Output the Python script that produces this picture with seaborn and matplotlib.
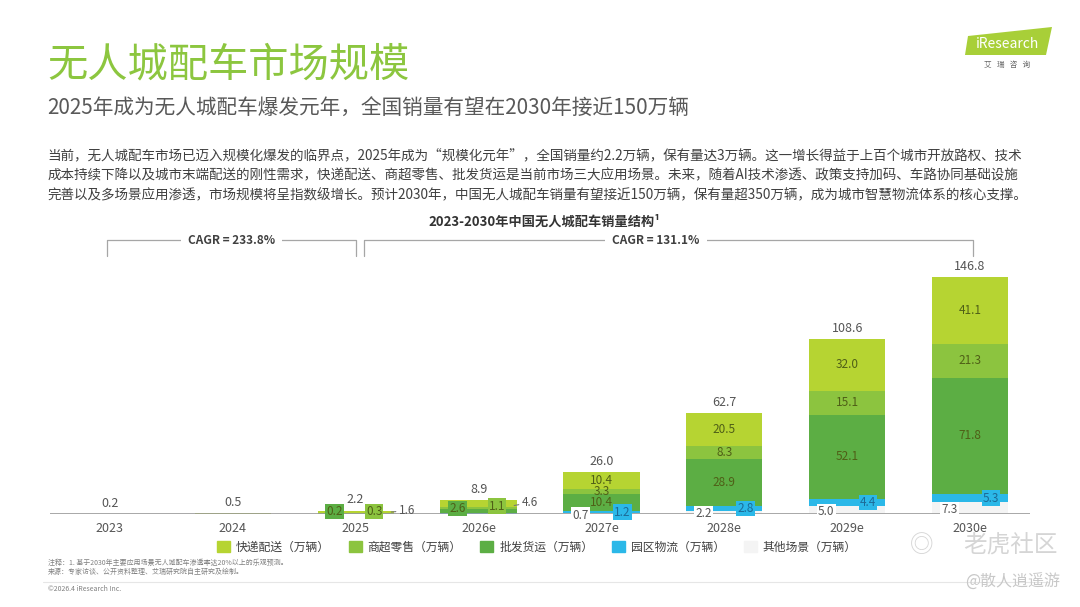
import numpy as np
import pandas as pd
import matplotlib
matplotlib.use("Agg")
import matplotlib.pyplot as plt
import matplotlib.transforms as mtransforms
from matplotlib.patches import Polygon, Patch
from matplotlib.lines import Line2D
import seaborn as sns

# ---- data (万辆) ----
years = ["2023", "2024", "2025", "2026e", "2027e", "2028e", "2029e", "2030e"]
totals = [0.2, 0.5, 2.2, 8.9, 26.0, 62.7, 108.6, 146.8]
other = [0.0, 0.0, 0.0, 0.3, 0.7, 2.2, 5.0, 7.3]
park = [0.0, 0.0, 0.1, 0.3, 1.2, 2.8, 4.4, 5.3]
wholesale = [0.0, 0.0, 0.2, 2.6, 10.4, 28.9, 52.1, 71.8]
retail = [0.0, 0.0, 0.3, 1.1, 3.3, 8.3, 15.1, 21.3]
express = [0.2, 0.5, 1.6, 4.6, 10.4, 20.5, 32.0, 41.1]
cagr_labels = ["CAGR = 233.8%", "CAGR = 131.1%"]
legend_labels = ["快递配送（万辆）", "商超零售（万辆）", "批发货运（万辆）", "园区物流（万辆）", "其他场景（万辆）"]

sns.set_theme(style="white")
plt.rcParams['font.family'] = ['Noto Sans CJK SC', 'DejaVu Sans']

colors = {"other": "#f4f4f4", "park": "#2bb8e8", "wholesale": "#5cae44",
          "retail": "#8cc43f", "express": "#b6d432"}
df = pd.DataFrame({"other": other, "park": park, "wholesale": wholesale,
                   "retail": retail, "express": express}, index=years)
cum = df.cumsum(axis=1)

fig = plt.figure(figsize=(10.8, 6.07), dpi=100)
ax = fig.add_axes([0.046, 0.153, 0.908, 0.425])

# stacked bars: draw tallest cumulative layer first
for key in ["express", "retail", "wholesale", "park", "other"]:
    sns.barplot(x=years, y=cum[key].values, color=colors[key], width=0.62,
                saturation=1, ax=ax, linewidth=0)

ax.set_xlim(-0.49, 7.49)
ax.set_ylim(0, 160)
ax.axhline(0, color="#9a9a9a", lw=1.2, zorder=3)
sns.despine(ax=ax, left=True, bottom=True)
ax.set_yticks([])
ax.set_ylabel("")
ax.tick_params(axis="x", length=0, pad=6, labelsize=9, labelcolor="#555555")

lab_col = "#4f5f17"
# totals
for i, t in enumerate(totals):
    ax.annotate(f"{t:.1f}", (i, t), xytext=(0, 3), textcoords="offset points",
                ha="center", va="bottom", fontsize=9, color="#555555")

# labels inside big segments
for i in range(4, 8):
    for key in ["wholesale", "retail", "express"]:
        v = df[key].iloc[i]
        mid = cum[key].iloc[i] - v / 2
        ax.text(i, mid, f"{v:.1f}", ha="center", va="center", fontsize=8.5, color=lab_col)
    # other / park small labels
    v = df["other"].iloc[i]
    ax.text(i - 0.17, max(v / 2 - 1, -2.5), f"{v:.1f}", ha="center", va="center",
            fontsize=8.5, color="#555555", zorder=5,
            bbox=dict(boxstyle="square,pad=0.1", fc="white", ec="none"))
    v = df["park"].iloc[i]
    mid = cum["park"].iloc[i] - v / 2
    ax.text(i + 0.17, max(mid, -1.5), f"{v:.1f}", ha="center", va="center",
            fontsize=8.5, color="#1d6a96", zorder=5,
            bbox=dict(boxstyle="square,pad=0.1", fc=colors["park"], ec="none"))

# small bars 2025 / 2026e with boxed labels
for i, ys in [(2, (1.8, 1.8, 2.2)), (3, (3.6, 5.0, 7.2))]:
    ax.text(i - 0.17, ys[0], f"{df['wholesale'].iloc[i]:.1f}", ha="center", va="center",
            fontsize=8.5, color=lab_col, zorder=5,
            bbox=dict(boxstyle="square,pad=0.1", fc=colors["wholesale"], ec="none"))
    ax.text(i + 0.15, ys[1], f"{df['retail'].iloc[i]:.1f}", ha="center", va="center",
            fontsize=8.5, color=lab_col, zorder=5,
            bbox=dict(boxstyle="square,pad=0.1", fc=colors["retail"], ec="none"))
    ax.annotate(f"{df['express'].iloc[i]:.1f}", (i + 0.29, cum['express'].iloc[i] * 0.6),
                xytext=(i + 0.42, ys[2]), ha="center", va="center", fontsize=8.5,
                color="#555555", arrowprops=dict(arrowstyle="-", color="#777777", lw=0.8,
                                                 shrinkA=8, shrinkB=0))

# CAGR brackets
tr = mtransforms.blended_transform_factory(ax.transData, fig.transFigure)
y_top, y_bot = 1 - 240 / 607, 1 - 256 / 607
for (x0, x1), lab in zip([(-0.02, 2.0), (2.07, 7.02)], cagr_labels):
    ax.add_line(Line2D([x0, x0, x1, x1], [y_bot, y_top, y_top, y_bot], transform=tr,
                       color="#a6a6a6", lw=0.9, clip_on=False))
    ax.text((x0 + x1) / 2 - (0.1 if x1 > 5 else 0), y_top, lab, transform=tr, ha="center",
            va="center", fontsize=8.5, color="#404040", fontweight="bold",
            bbox=dict(boxstyle="square,pad=0.6", fc="white", ec="none"))

# legend
handles = [Patch(color=colors[k]) for k in ["express", "retail", "wholesale", "park", "other"]]
fig.legend(handles, legend_labels, loc="center", bbox_to_anchor=(0.497, 1 - 547 / 607),
           ncol=5, frameon=False, fontsize=8.5, handlelength=1.1, handleheight=1.1,
           columnspacing=1.6, handletextpad=0.5, labelcolor="#404040")

# header texts
fig.text(0.044, 1 - 65 / 607, "无人城配车市场规模", fontsize=29, color="#8cc63f", va="center")
fig.text(0.044, 1 - 108 / 607, "2025年成为无人城配车爆发元年，全国销量有望在2030年接近150万辆",
         fontsize=14.9, color="#595959", va="center")
body = ["当前，无人城配车市场已迈入规模化爆发的临界点，2025年成为“规模化元年”，全国销量约2.2万辆，保有量达3万辆。这一增长得益于上百个城市开放路权、技术",
        "成本持续下降以及城市末端配送的刚性需求，快递配送、商超零售、批发货运是当前市场三大应用场景。未来，随着AI技术渗透、政策支持加码、车路协同基础设施",
        "完善以及多场景应用渗透，市场规模将呈指数级增长。预计2030年，中国无人城配车销量有望接近150万辆，保有量超350万辆，成为城市智慧物流体系的核心支撑。"]
for k, line in enumerate(body):
    fig.text(0.044, 1 - (155 + 20 * k) / 607, line, fontsize=9.75, color="#404040", va="center")
fig.text(0.504, 1 - 222 / 607, "2023-2030年中国无人城配车销量结构¹", fontsize=9.5,
         color="#333333", fontweight="bold", ha="center", va="center")

# logo
fig.patches.append(Polygon([(968 / 1080, 1 - 36 / 607), (1052 / 1080, 1 - 27 / 607),
                            (1046 / 1080, 1 - 55 / 607), (965 / 1080, 1 - 55 / 607)],
                           closed=True, transform=fig.transFigure, fc="#a8cf38", ec="none"))
fig.text(1007 / 1080, 1 - 44 / 607, "iResearch", fontsize=10, color="white", ha="center", va="center")
fig.text(1007 / 1080, 1 - 65 / 607, "艾   瑞   咨   询", fontsize=5.5, color="#666666", ha="center", va="center")

# footnotes
fig.text(0.044, 1 - 563 / 607, "注释：1. 基于2030年主要应用场景无人城配车渗透率达20%以上的乐观预测。",
         fontsize=5, color="#808080", va="center")
fig.text(0.044, 1 - 572 / 607, "来源：专家访谈、公开资料整理、艾瑞研究院自主研究及绘制。",
         fontsize=5, color="#808080", va="center")
fig.text(0.044, 1 - 589 / 607, "©2026.4 iResearch Inc.", fontsize=5, color="#808080", va="center")
fig.add_artist(Line2D([0.04, 0.97], [1 - 582 / 607, 1 - 582 / 607], transform=fig.transFigure,
                      color="#e6e6e6", lw=0.8))

# watermark
fig.text(1058 / 1080, 1 - 546 / 607, "老虎社区", fontsize=17, color="#d5d5d5", ha="right", va="center")
fig.text(922 / 1080, 1 - 546 / 607, "◎", fontsize=17, color="#d5d5d5", ha="center", va="center")
fig.text(1060 / 1080, 1 - 582 / 607, "@散人逍遥游", fontsize=11.5, color="#c8c8c8", ha="right", va="center")

fig.savefig("out.png", dpi=100)
